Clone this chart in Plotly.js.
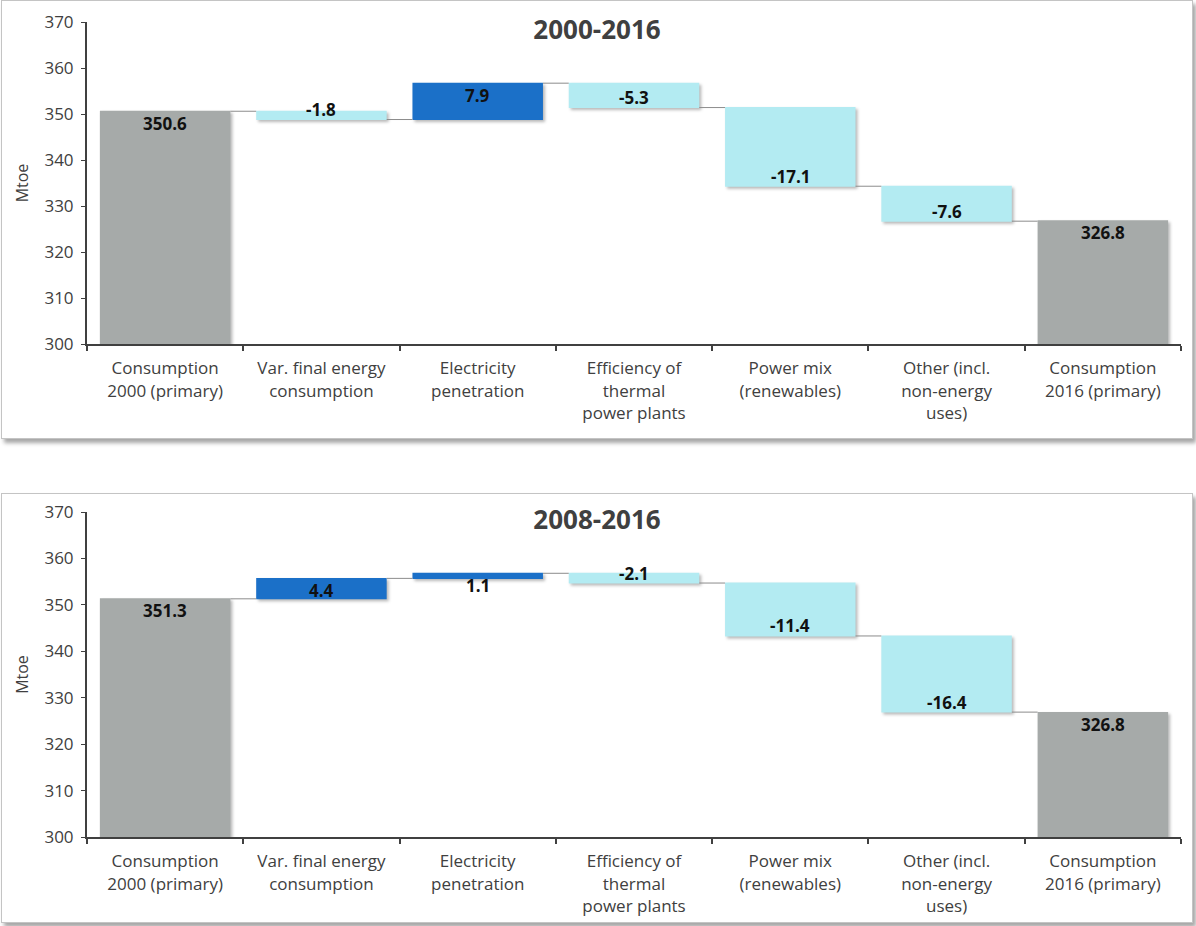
<!DOCTYPE html>
<html>
<head>
<meta charset="utf-8">
<script src="https://cdn.plot.ly/plotly-3.0.1.min.js"></script>
<style>
  html, body { margin: 0; padding: 0; background: #ffffff; }
  .panel {
    position: absolute;
    left: 1px;
    width: 1190px;
    border: 1px solid #c4c4c4;
    background: #ffffff;
    box-shadow: 3px 4px 4px rgba(0, 0, 0, 0.35);
  }
  #top { top: 0px; height: 437px; }
  #bottom { top: 493px; height: 428px; }
  .point path { filter: drop-shadow(2px 2px 1.5px rgba(0, 0, 0, 0.28)); }
</style>
</head>
<body>
<div id="top" class="panel"></div>
<div id="bottom" class="panel"></div>
<script>
// Decomposition of primary energy consumption (Mtoe)
const categories = [
  'Consumption<br>2000 (primary)',
  'Var. final energy<br>consumption',
  'Electricity<br>penetration',
  'Efficiency of<br>thermal<br>power plants',
  'Power mix<br>(renewables)',
  'Other (incl.<br>non-energy<br>uses)',
  'Consumption<br>2016 (primary)'
];
const measures = ['absolute', 'relative', 'relative', 'relative', 'relative', 'relative', 'absolute'];
const values2000 = [350.6, -1.8, 7.9, -5.3, -17.1, -7.6, 326.8];
const values2008 = [351.3, 4.4, 1.1, -2.1, -11.4, -16.4, 326.8];

const FONT = '"Open Sans", "Noto Sans", sans-serif';
const INK = '#404040';

// Value labels sit just inside the end of each bar
function valueLabels(values) {
  const notes = [];
  let level = 0;
  values.forEach((v, i) => {
    let end, up;
    if (measures[i] === 'absolute') {
      end = v; up = true; level = v;
    } else {
      end = level + v; up = v >= 0; level = end;
    }
    notes.push({
      x: categories[i], y: end, xref: 'x', yref: 'y',
      text: v.toFixed(1), showarrow: false,
      yanchor: 'middle', yshift: up ? -12 : 10,
      font: { family: FONT, size: 17, color: '#111111', weight: 'bold' }
    });
  });
  return notes;
}

function draw(id, title, values, height, mt, mb, titleY) {
  const trace = {
    type: 'waterfall',
    x: categories,
    y: values,
    measure: measures,
    textinfo: 'none',
    hoverinfo: 'skip',
    increasing: { marker: { color: '#1b70c8', line: { width: 0 } } },
    decreasing: { marker: { color: '#b3ebf2', line: { width: 0 } } },
    totals: { marker: { color: '#a6aaa9', line: { width: 0 } } },
    connector: { mode: 'between', line: { color: '#8c8c8c', width: 1 } }
  };
  const layout = {
    width: 1190, height: height,
    margin: { l: 85, r: 11, t: mt, b: mb },
    paper_bgcolor: '#ffffff', plot_bgcolor: '#ffffff',
    showlegend: false,
    waterfallgap: 0.165,
    font: { family: FONT, color: INK },
    title: {
      text: title, xref: 'container', x: 0.5, xanchor: 'center',
      yref: 'container', y: 1 - titleY / height, yanchor: 'middle',
      font: { family: FONT, size: 26, color: INK, weight: 'bold' }
    },
    xaxis: {
      type: 'category',
      showline: true, linecolor: INK, linewidth: 2,
      ticks: 'outside', tickson: 'boundaries', ticklen: 5, tickcolor: INK, tickwidth: 2,
      ticklabelstandoff: 8,
      tickfont: { family: FONT, size: 17, color: INK },
      showgrid: false, zeroline: false, fixedrange: true
    },
    yaxis: {
      range: [300, 370], dtick: 10,
      showline: true, linecolor: INK, linewidth: 2,
      ticks: 'outside', ticklen: 4, tickcolor: INK, tickwidth: 1,
      ticklabelstandoff: 4,
      tickfont: { family: FONT, size: 17, color: INK },
      showgrid: false, zeroline: false, fixedrange: true,
      title: { text: 'Mtoe', standoff: 12, font: { family: FONT, size: 16, color: INK } }
    },
    annotations: valueLabels(values)
  };
  Plotly.newPlot(id, [trace], layout, { staticPlot: true, displayModeBar: false });
}

draw('top', '2000-2016', values2000, 437, 21, 94, 29);
draw('bottom', '2008-2016', values2008, 428, 18, 85, 26);
</script>
</body>
</html>
